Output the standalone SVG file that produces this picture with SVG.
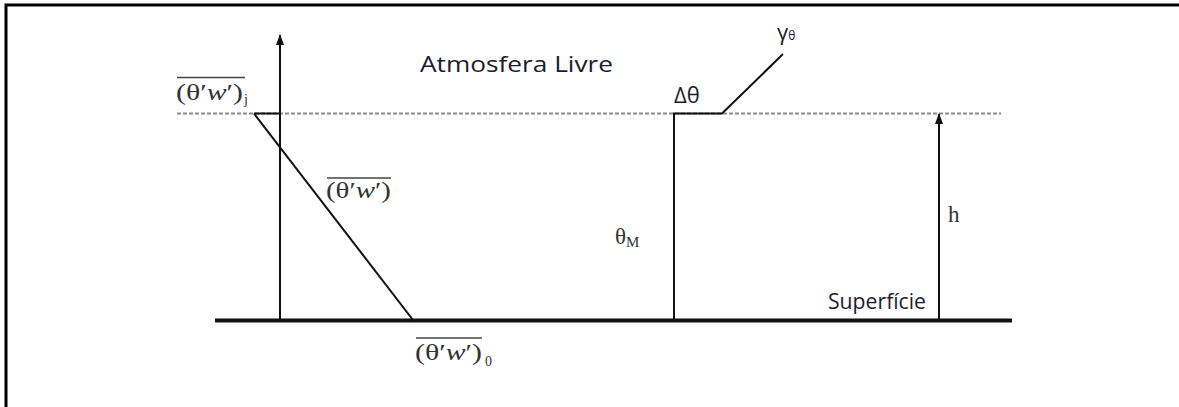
<svg xmlns="http://www.w3.org/2000/svg" width="1179" height="407" viewBox="0 0 1179 407">
<style>
.ln{stroke:#111;stroke-width:2;fill:none}
.dot{stroke:#8a8a8a;stroke-width:2;stroke-dasharray:4 2;fill:none}
.lbl{font-family:"Open Sans","Liberation Sans",sans-serif;font-size:22px;fill:#1c1c30}
.math{font-family:"Liberation Serif","DejaVu Serif",serif;font-size:23px;fill:#333}
.sub{font-family:"Liberation Serif","DejaVu Serif",serif;font-size:14px;fill:#333}
.ov{stroke:#444;stroke-width:1.3}
</style>
<defs>
<marker id="ah" markerWidth="12" markerHeight="10" refX="10" refY="5" orient="auto" markerUnits="userSpaceOnUse" viewBox="0 0 12 10">
<path d="M0,1 L11,5 L0,9 Z" fill="#111"/>
</marker>
</defs>
<rect width="1179" height="407" fill="#fff"/>
<g id="frame">
<path d="M6,407 V5 H1179" stroke="#000" stroke-width="3" fill="none"/>
</g>
<g id="connectors">
<line class="dot" x1="177" y1="113.5" x2="1001" y2="113.5"/>
<line x1="215" y1="320.5" x2="1012" y2="320.5" stroke="#111" stroke-width="4"/>
<line class="ln" x1="280" y1="320" x2="280" y2="35" marker-end="url(#ah)"/>
<line class="ln" x1="254" y1="113.5" x2="280" y2="113.5"/>
<line class="ln" x1="254" y1="113.5" x2="413" y2="320"/>
<polyline class="ln" points="674,320 674,113.5 722,113.5 783,54"/>
<line class="ln" x1="939" y1="320" x2="939" y2="114" marker-end="url(#ah)"/>
</g>
<g id="label-atmosfera">
<text class="lbl" x="420" y="72" textLength="193" lengthAdjust="spacingAndGlyphs">Atmosfera Livre</text>
</g>
<g id="label-superficie">
<text class="lbl" x="828" y="309" textLength="98" lengthAdjust="spacingAndGlyphs">Superfície</text>
</g>
<g id="label-flux-j">
<line class="ov" x1="177" y1="77.5" x2="245" y2="77.5"/>
<text class="math" x="176" y="100" textLength="67" lengthAdjust="spacingAndGlyphs">(θ′<tspan font-style="italic">w</tspan>′)</text>
<text class="sub" x="244" y="104">j</text>
</g>
<g id="label-flux">
<line class="ov" x1="327" y1="178" x2="391" y2="178"/>
<text class="math" x="326" y="198" textLength="65" lengthAdjust="spacingAndGlyphs">(θ′<tspan font-style="italic">w</tspan>′)</text>
</g>
<g id="label-flux-0">
<line class="ov" x1="416" y1="338" x2="482" y2="338"/>
<text class="math" x="415" y="360" textLength="67" lengthAdjust="spacingAndGlyphs">(θ′<tspan font-style="italic">w</tspan>′)</text>
<text class="sub" x="485" y="366">0</text>
</g>
<g id="label-gamma">
<text class="lbl" x="777" y="40" font-size="16" fill="#333">γ<tspan font-size="12">θ</tspan></text>
</g>
<g id="label-delta">
<text class="lbl" x="674" y="103" font-size="19" fill="#222">Δθ</text>
</g>
<g id="label-thetaM">
<text class="math" x="615" y="244" font-size="22">θ<tspan font-size="15" dy="3">M</tspan></text>
</g>
<g id="label-h">
<text class="math" x="948" y="222" font-size="18">h</text>
</g>
</svg>
